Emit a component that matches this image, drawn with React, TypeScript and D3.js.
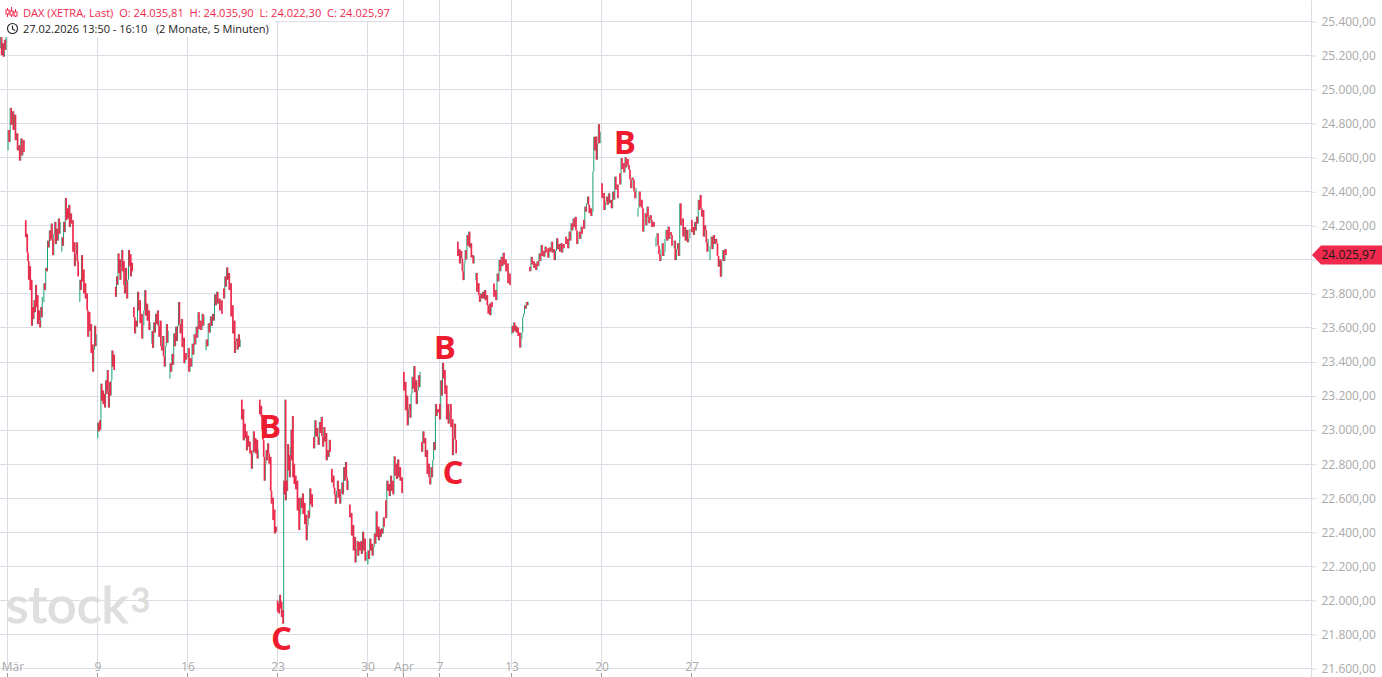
import { useEffect, useRef } from 'react';
import * as d3 from 'd3';

const width = 1382;
const height = 677;

const priceTicks = [21600, 21800, 22000, 22200, 22400, 22600, 22800, 23000, 23200, 23400, 23600, 23800, 24000, 24200, 24400, 24600, 24800, 25000, 25200, 25400];
const lastPrice = 24025.97;

// trading days, weekends and the Easter holidays are left out of the axis
const sessionDays = [
  '02-27', '03-02', '03-03', '03-04', '03-05', '03-06', '03-09', '03-10', '03-11', '03-12', '03-13',
  '03-16', '03-17', '03-18', '03-19', '03-20', '03-23', '03-24', '03-25', '03-26', '03-27',
  '03-30', '03-31', '04-01', '04-02', '04-07', '04-08', '04-09', '04-10',
  '04-13', '04-14', '04-15', '04-16', '04-17', '04-20', '04-21', '04-22', '04-23', '04-24', '04-27', '04-28',
];

// prices, session by session
const sessionPrices = [
  [25240, 25310, 25200, 25270, 25190, 25290, 25230, 25310],
  [24640, 24760, 24690, 24890, 24790, 24870, 24760, 24850, 24700, 24740, 24640, 24670, 24580, 24710, 24610, 24700, 24630],
  [24230, 24130, 24150, 24040, 23990, 23880, 23960, 23820, 23880, 23610, 23720, 23650, 23760, 23690, 23850, 23720, 23790, 23620, 23700, 23640, 23600, 23720, 23660, 23780],
  [23750, 23860, 23820, 23950, 23930, 24110, 24070, 24170, 24110, 24210, 24120, 24025, 24150, 24220, 24090, 24180, 24110, 24240, 24150, 24220],
  [24045, 24130, 24080, 24220, 24160, 24360, 24230, 24300, 24240, 24320, 24190, 24270, 24210, 24230, 24045, 24100, 23960, 24030, 24100, 23990, 23900],
  [23750, 23880, 23820, 24025, 23870, 23940, 23800, 23860, 23770, 23800, 23700, 23545, 23690, 23580, 23620, 23450, 23500, 23340, 23470, 23610, 23490, 23560],
  [22950, 23040, 22990, 23055, 23000, 23270, 23170, 23230, 23150, 23210, 23130, 23290, 23210, 23350, 23230, 23130, 23280, 23200, 23290, 23465, 23370, 23440, 23350],
  [23840, 23780, 23900, 23850, 24035, 23920, 24000, 23880, 23960, 24055, 23930, 23990, 23850, 23800, 23950, 23870, 23770, 23880, 24055, 23960, 24030, 23900, 23980, 23930],
  [23720, 23660, 23565, 23640, 23605, 23810, 23700, 23760, 23625, 23680, 23535, 23610, 23700, 23820, 23670, 23740, 23640, 23700, 23585, 23630],
  [23505, 23580, 23480, 23630, 23570, 23680, 23620, 23700, 23610, 23545, 23640, 23490, 23465, 23550, 23430, 23370, 23490, 23620, 23510, 23580],
  [23300, 23390, 23340, 23445, 23380, 23565, 23490, 23605, 23520, 23610, 23750, 23620, 23565, 23650, 23485, 23540, 23390, 23450, 23410],
  [23420, 23480, 23340, 23420, 23370, 23505, 23440, 23560, 23500, 23605, 23540, 23690, 23590, 23640, 23585, 23680, 23610, 23670],
  [23465, 23530, 23490, 23625, 23570, 23665, 23610, 23680, 23640, 23795, 23730, 23810, 23740, 23770, 23700, 23760, 23680],
  [23830, 23770, 23900, 23840, 23953, 23880, 23920, 23820, 23860, 23665, 23730, 23565, 23640, 23450, 23520, 23535, 23470, 23560, 23485, 23530],
  [23176, 23060, 23120, 22937, 23035, 22950, 22990, 22878, 22965, 22900, 22930, 22860, 22878, 22770, 22860, 22990, 22870, 22950, 22860, 22940, 22830, 22880],
  [23176, 23090, 23140, 23075, 23000, 22940, 22840, 22700, 22800, 22880, 22820, 22920, 22860, 22800, 22840, 22640, 22565, 22600, 22470, 22530, 22390, 22430, 22400],
  [21996, 21930, 21980, 21920, 22030, 21950, 21990, 21900, 21940, 21860, 22700, 22620, 23176, 22585, 22700, 22640, 22915, 22760, 22850, 22720, 22900, 23000, 22820, 23080, 22720, 22800, 22680],
  [22730, 22650, 22700, 22525, 22600, 22410, 22500, 22600, 22540, 22625, 22505, 22570, 22445, 22500, 22350, 22440, 22525, 22480, 22655, 22560, 22620, 22545],
  [22957, 22890, 23055, 22960, 23010, 22957, 22910, 23045, 22980, 23075, 22960, 22900, 23015, 22930, 22980, 22820, 22880, 22840, 22940, 22870],
  [22770, 22690, 22730, 22660, 22620, 22565, 22640, 22700, 22600, 22650, 22565, 22625, 22690, 22620, 22780, 22700, 22810, 22720, 22645, 22700],
  [22560, 22485, 22510, 22378, 22440, 22290, 22370, 22220, 22300, 22345, 22260, 22340, 22290, 22345, 22270, 22400, 22290, 22360, 22230, 22280],
  [22208, 22290, 22240, 22360, 22290, 22330, 22260, 22310, 22390, 22330, 22520, 22370, 22430, 22350, 22415, 22370, 22420, 22390, 22485, 22430],
  [22585, 22480, 22700, 22640, 22680, 22610, 22730, 22640, 22700, 22620, 22843, 22730, 22800, 22710, 22825, 22720, 22780, 22700, 22720, 22627],
  [23339, 23230, 23280, 23114, 23200, 23025, 23120, 23150, 23070, 23210, 23310, 23240, 23373, 23220, 23290, 23150, 23230, 23320, 23250, 23340],
  [22927, 22870, 22990, 22920, 22950, 22840, 22880, 22740, 22800, 22720, 22678, 22780, 22720, 22820, 22927, 22880, 23150, 23080, 23120, 23100],
  [23150, 23060, 23290, 23200, 23392, 23300, 23350, 23210, 23260, 23060, 23150, 23035, 23100, 23150, 23015, 23060, 22850, 22950, 23035, 22940, 22860],
  [24104, 24020, 24060, 23976, 24050, 24005, 23930, 23878, 23980, 24055, 24000, 24143, 24080, 24163, 24070, 24095, 24010, 24025, 23976, 24020],
  [23878, 23920, 23810, 23860, 23790, 23750, 23800, 23770, 23810, 23770, 23820, 23760, 23790, 23730, 23680, 23740, 23672, 23750, 23720],
  [23858, 23780, 23820, 23760, 23917, 23870, 23996, 23930, 24015, 23960, 24039, 23970, 24000, 23930, 23976, 23860, 23917, 23849],
  [23560, 23610, 23570, 23630, 23580, 23610, 23570, 23600, 23550, 23570, 23482, 23530, 23570, 23660, 23680, 23730, 23710, 23750, 23730, 23751],
  [23957, 23930, 24015, 23970, 23990, 23950, 23976, 23937, 23990, 23960, 24035, 23990, 24084, 24020, 24050, 24015, 24075, 24040],
  [24065, 24010, 24070, 24045, 24104, 24040, 24060, 23996, 24050, 24124, 24060, 24090, 24045, 24095, 24040, 24090, 24065],
  [24134, 24090, 24120, 24065, 24163, 24110, 24212, 24170, 24240, 24190, 24250, 24170, 24090, 24130, 24163, 24120, 24192, 24150],
  [24232, 24180, 24310, 24280, 24330, 24369, 24320, 24271, 24300, 24255, 24280, 24516, 24720, 24640, 24722, 24585, 24680, 24794, 24682, 24750],
  [24447, 24360, 24390, 24290, 24340, 24369, 24320, 24388, 24330, 24349, 24300, 24398, 24350, 24486, 24410, 24440, 24359],
  [24506, 24440, 24595, 24530, 24565, 24510, 24600, 24540, 24590, 24555, 24526, 24470, 24418, 24480, 24467, 24400, 24359, 24420],
  [24251, 24300, 24398, 24310, 24350, 24300, 24163, 24240, 24271, 24200, 24310, 24250, 24212, 24260, 24232, 24190, 24220, 24192],
  [24075, 24130, 24153, 24080, 24030, 23990, 24060, 24095, 24020, 24045, 24120, 24173, 24110, 24192, 24120, 24160, 24143, 24080],
  [24065, 24110, 23996, 24060, 24095, 24020, 24329, 24200, 24240, 24134, 24190, 24110, 24173, 24100, 24124, 24180],
  [24232, 24160, 24190, 24143, 24220, 24170, 24251, 24210, 24349, 24290, 24378, 24300, 24251, 24290, 24134, 24200, 24173, 24100, 24045, 24120],
  [23996, 24080, 24134, 24060, 24143, 24090, 24120, 24095, 24020, 23957, 24000, 23898, 23990, 24055, 23990, 24060, lastPrice],
];

const dayTicks = [
  { day: '03-02', label: 'Mär' },
  { day: '03-09', label: '9' },
  { day: '03-16', label: '16' },
  { day: '03-23', label: '23' },
  { day: '03-30', label: '30' },
  { day: '04-01', label: 'Apr' },
  { day: '04-07', label: '7' },
  { day: '04-13', label: '13' },
  { day: '04-20', label: '20' },
  { day: '04-27', label: '27' },
];

// wave labels drawn on the chart: session position and price of the letter's centre
const waveLabels = [
  { text: 'B', day: 15.61, price: 23016 },
  { text: 'C', day: 16.25, price: 21776 },
  { text: 'B', day: 25.33, price: 23484 },
  { text: 'C', day: 25.78, price: 22750 },
  { text: 'B', day: 35.33, price: 24686 },
];

const GREEN = '#18a070';
const RED = '#f0294d';
const GRID = '#dcdce4';
const AXIS_TEXT = '#a9a9a9';
const FONT = '"Open Sans", sans-serif';

export default function App() {
  const svgRef = useRef<SVGSVGElement>(null);

  useEffect(() => {
    if (!svgRef.current) return;
    const svg = d3.select(svgRef.current);
    svg.selectAll('*').remove();

    const plotRight = 1311;
    const plotBottom = 668;

    // index 1 is 2 March, the first session is cut by the left edge
    const x = d3.scaleLinear().domain([1, 41]).range([7, 727]);
    const y = d3.scaleLinear().domain([21600, 25400]).range([plotBottom, 21]);
    const de = d3.formatLocale({ decimal: ',', thousands: '.', grouping: [3], currency: ['', ' €'] });
    const priceFmt = de.format(',.2f');

    // grid
    const grid = svg.append('g').attr('stroke', GRID).attr('stroke-width', 1);
    grid
      .selectAll('line.h')
      .data(priceTicks)
      .join('line')
      .attr('class', 'h')
      .attr('x1', 0)
      .attr('x2', plotRight)
      .attr('y1', (d) => Math.round(y(d)) + 0.5)
      .attr('y2', (d) => Math.round(y(d)) + 0.5);
    grid
      .selectAll('line.v')
      .data(dayTicks)
      .join('line')
      .attr('class', 'v')
      .attr('x1', (d) => Math.round(x(sessionDays.indexOf(d.day))) + 0.5)
      .attr('x2', (d) => Math.round(x(sessionDays.indexOf(d.day))) + 0.5)
      .attr('y1', 0)
      .attr('y2', plotBottom);

    // watermark
    const logo = svg
      .append('g')
      .attr('fill', '#dedede')
      .attr('stroke', '#dedede')
      .attr('stroke-width', 1.2)
      .style('font-family', '"Lato", sans-serif');
    logo.append('text').attr('x', 6).attr('y', 623).attr('font-size', 50).attr('textLength', 122).attr('lengthAdjust', 'spacingAndGlyphs').text('stock');
    logo.append('text').attr('x', 131).attr('y', 612).attr('font-size', 33).text('3');

    // one bar for each step between two readings
    const bars = sessionPrices.flatMap((prices, s) => {
      const span = s === 0 ? 0.4 : 1;
      const step = span / prices.length;
      const start = s + 1 - span;
      return prices.slice(1).map((close, i) => ({
        pos: start + step * (i + 1),
        open: prices[i],
        close,
      }));
    });

    const chart = svg.append('g');
    const drawBars = (rows: typeof bars, color: string, barWidth: number) => {
      chart
        .append('g')
        .attr('fill', color)
        .selectAll('rect')
        .data(rows)
        .join('rect')
        .attr('x', (d) => x(d.pos) - barWidth / 2)
        .attr('width', barWidth)
        .attr('y', (d) => y(Math.max(d.open, d.close)))
        .attr('height', (d) => Math.abs(y(d.open) - y(d.close)));
    };
    drawBars(bars.filter((d) => d.close > d.open), GREEN, 1);
    drawBars(bars.filter((d) => d.close <= d.open), RED, 1.7);

    // price axis, the tag of the last price takes the place of the 24.000 label
    const yAxis = svg
      .append('g')
      .attr('transform', `translate(${plotRight + 0.5},0.5)`)
      .call(
        d3
          .axisRight(y)
          .tickValues(priceTicks)
          .tickSize(5)
          .tickPadding(5)
          .tickFormat((d) => ((d as number) === 24000 ? '' : priceFmt(d as number)))
      );
    yAxis.select('.domain').attr('stroke', GRID).attr('d', `M0,0V${height}`);
    yAxis.selectAll('.tick line').attr('stroke', GRID);
    yAxis.selectAll('text').attr('fill', AXIS_TEXT).style('font-family', FONT).style('font-size', '12px');

    // time axis
    const xAxis = svg.append('g');
    xAxis
      .selectAll('line')
      .data(dayTicks)
      .join('line')
      .attr('x1', (d) => Math.round(x(sessionDays.indexOf(d.day))) + 0.5)
      .attr('x2', (d) => Math.round(x(sessionDays.indexOf(d.day))) + 0.5)
      .attr('y1', 673)
      .attr('y2', 677)
      .attr('stroke', '#999');
    xAxis
      .selectAll('text')
      .data(dayTicks)
      .join('text')
      .attr('x', (d) => x(sessionDays.indexOf(d.day)) + (d.label === 'Mär' ? 6 : 1))
      .attr('y', 671)
      .attr('text-anchor', 'middle')
      .attr('fill', AXIS_TEXT)
      .style('font-family', FONT)
      .style('font-size', '12px')
      .text((d) => d.label);

    // last price tag
    const tagY = y(lastPrice);
    svg
      .append('path')
      .attr('d', `M${plotRight + 1},${tagY} L${plotRight + 10},${tagY - 9.5} H${width} V${tagY + 9.5} H${plotRight + 10} Z`)
      .attr('fill', RED);
    svg
      .append('text')
      .attr('x', plotRight + 10.5)
      .attr('y', tagY + 4.5)
      .attr('fill', '#1a1a1a')
      .style('font-family', FONT)
      .style('font-size', '12px')
      .text(priceFmt(lastPrice));

    // wave labels
    svg
      .append('g')
      .selectAll('text')
      .data(waveLabels)
      .join('text')
      .attr('x', (d) => x(d.day))
      .attr('y', (d) => y(d.price) + 11.5)
      .attr('text-anchor', 'middle')
      .attr('fill', '#ee1c2e')
      .style('font-family', FONT)
      .style('font-weight', 700)
      .style('font-size', '33px')
      .text((d) => d.text);

    // header boxes
    svg.append('rect').attr('x', 0).attr('y', 0).attr('width', 396).attr('height', 21).attr('fill', '#fff');
    svg.append('rect').attr('x', 0).attr('y', 21).attr('width', 275).attr('height', 16).attr('fill', '#fff');

    const header = svg.append('g').style('font-family', FONT);
    header
      .append('text')
      .attr('x', 23)
      .attr('y', 17)
      .attr('fill', RED)
      .style('font-size', '11.1px')
      .style('white-space', 'pre')
      .text('DAX (XETRA, Last)  O: 24.035,81  H: 24.035,90  L: 24.022,30  C: 24.025,97');
    header
      .append('text')
      .attr('x', 23)
      .attr('y', 33)
      .attr('fill', '#222')
      .style('font-size', '11px')
      .style('white-space', 'pre')
      .text('27.02.2026 13:50 - 16:10   (2 Monate, 5 Minuten)');

    // candle icon
    const icon = svg.append('g').attr('stroke', RED).attr('fill', 'none').attr('stroke-width', 1);
    icon.append('path').attr('d', 'M7.5,8V17M11.5,7V17M15.5,9V17');
    icon.append('rect').attr('x', 6).attr('y', 10).attr('width', 3).attr('height', 4).attr('fill', '#fff');
    icon.append('rect').attr('x', 10).attr('y', 11).attr('width', 3).attr('height', 4).attr('fill', '#fff');
    icon.append('rect').attr('x', 14).attr('y', 12).attr('width', 3).attr('height', 4).attr('fill', '#fff');

    // clock icon
    const clock = svg.append('g').attr('stroke', '#222').attr('fill', 'none').attr('stroke-width', 1.1);
    clock.append('circle').attr('cx', 12.5).attr('cy', 28.5).attr('r', 5);
    clock.append('path').attr('d', 'M12.5,25.5V29L15,30.5');
  }, []);

  return (
    <svg
      ref={svgRef}
      width={width}
      height={height}
      style={{ position: 'absolute', left: 0, top: 0, display: 'block', background: '#fff' }}
    />
  );
}
